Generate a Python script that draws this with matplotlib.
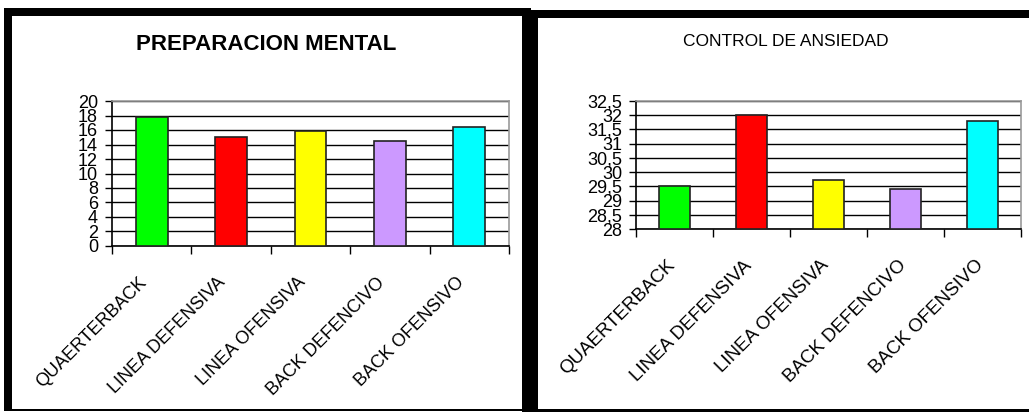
import numpy as np
import matplotlib.pyplot as plt
import matplotlib.transforms as mtransforms
from matplotlib.patches import Rectangle

plt.rcParams['font.family'] = ['Liberation Sans', 'DejaVu Sans']

# data
categories = ['QUAERTERBACK', 'LINEA DEFENSIVA', 'LINEA OFENSIVA',
              'BACK DEFENCIVO', 'BACK OFENSIVO']
bar_colors = ['#00FF00', '#FF0000', '#FFFF00', '#CC99FF', '#00FFFF']

mental_values = [17.8, 15.1, 15.8, 14.5, 16.4]
mental_ticks = [0, 2, 4, 6, 8, 10, 12, 14, 16, 18, 20]
mental_labels = ['0', '2', '4', '6', '8', '10', '12', '14', '16', '18', '20']

ansiedad_values = [29.5, 32.0, 29.72, 29.4, 31.78]
ansiedad_ticks = [28, 28.5, 29, 29.5, 30, 30.5, 31, 31.5, 32, 32.5]
ansiedad_labels = ['28', '28,5', '29', '29,5', '30', '30,5', '31', '31,5',
                   '32', '32,5']

W, H = 1029, 412


def px_rect(x0, y0, x1, y1):
    '''pixel box (top-left origin) -> figure fraction [l, b, w, h]'''
    return [x0 / W, 1 - y1 / H, (x1 - x0) / W, (y1 - y0) / H]


def bar_panel(ax, values, ticks, labels, ymin, ymax, xfs, yfs, dx, dy):
    x = np.arange(len(values))
    ax.set_xlim(-0.5, len(values) - 0.5)
    ax.set_ylim(ymin, ymax)
    ax.set_yticks(ticks)
    ax.set_yticklabels(labels, fontsize=yfs)
    ax.yaxis.grid(True, color='black', linewidth=1.0)
    ax.set_axisbelow(True)
    ax.bar(x, np.array(values) - ymin, width=0.4, bottom=ymin,
           color=bar_colors, edgecolor='#222222', linewidth=1.2, zorder=3)

    # category labels at centres, tick marks at the boundaries
    ax.set_xticks(x)
    ax.set_xticklabels(categories, fontsize=xfs, rotation=45,
                       ha='right', va='top', rotation_mode='anchor')
    ax.tick_params(axis='x', which='major', length=0, pad=0)
    shift = mtransforms.ScaledTranslation(dx / 100, -dy / 100,
                                          ax.figure.dpi_scale_trans)
    for lab in ax.get_xticklabels():
        lab.set_transform(lab.get_transform() + shift)
    ax.set_xticks(np.arange(len(values) + 1) - 0.5, minor=True)
    ax.tick_params(axis='x', which='minor', length=6, width=1, color='black')
    ax.tick_params(axis='y', length=5, width=1, pad=5, color='black')

    for s in ['top', 'right']:
        ax.spines[s].set_color('#999999')
        ax.spines[s].set_linewidth(1.2)
    for s in ['left', 'bottom']:
        ax.spines[s].set_color('black')
        ax.spines[s].set_linewidth(1.2)


fig = plt.figure(figsize=(W / 100, H / 100), dpi=100)
fig.patch.set_facecolor('white')

# panel frames
frames = [
    (4, 8, 531, 16),      # left panel top bar
    (4, 8, 12, 411),      # left panel left bar
    (4, 409, 522, 411),   # left panel bottom line
    (522, 10, 1029, 18),  # right panel top bar
    (522, 10, 538, 412),  # thick divider
    (538, 409, 1029, 412),  # right panel bottom line
]
for x0, y0, x1, y1 in frames:
    l, b, w, h = px_rect(x0, y0, x1, y1)
    fig.patches.append(Rectangle((l, b), w, h, transform=fig.transFigure,
                                 facecolor='black', edgecolor='none'))

ax1 = fig.add_axes(px_rect(112, 101, 509, 246))
bar_panel(ax1, mental_values, mental_ticks, mental_labels, 0, 20, 13, 13,
          -14, 28)
fig.text(266 / W, 1 - 44 / H, 'PREPARACION MENTAL', fontsize=16,
         fontweight='bold', ha='center', va='center')

ax2 = fig.add_axes(px_rect(636, 101, 1021, 229))
bar_panel(ax2, ansiedad_values, ansiedad_ticks, ansiedad_labels, 28, 32.5,
          13.5, 13, -8, 28)
fig.text(786 / W, 1 - 42 / H, 'CONTROL DE ANSIEDAD', fontsize=12.5,
         ha='center', va='center')

fig.savefig('out.png', dpi=100)
